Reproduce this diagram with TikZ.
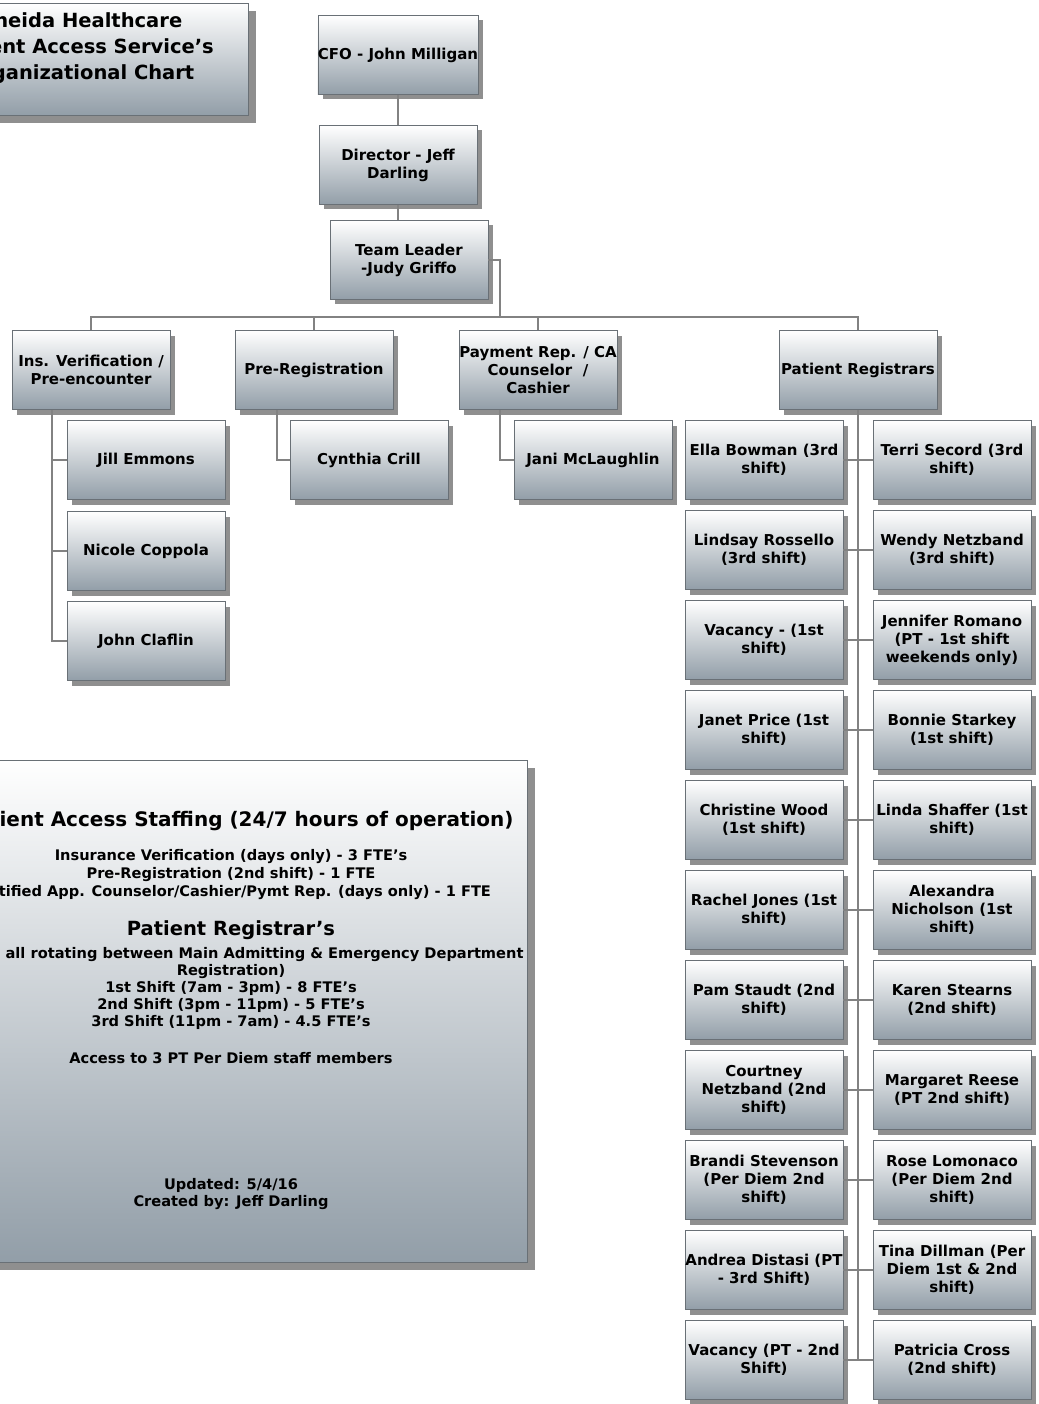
\documentclass[tikz,border=0pt]{standalone}
\usepackage{fontspec}
\setmainfont{DejaVu Sans}
\usetikzlibrary{shadows}

\definecolor{boxbot}{RGB}{146,158,168}
\definecolor{boxline}{RGB}{105,112,118}
\definecolor{linkgray}{RGB}{130,130,130}

\begin{document}
\begin{tikzpicture}[x=1pt, y=-1pt, every node/.style={font=\bfseries},
	box/.style={draw=boxline, line width=0.7pt, top color=white, bottom color=boxbot, minimum width=158pt, minimum height=79pt, align=center, inner sep=0pt, font=\fontsize{15}{18}\selectfont\bfseries, drop shadow={shadow xshift=5pt, shadow yshift=-5pt, opacity=0.55, fill=black!80}},
	bigbox/.style={draw=boxline, line width=0.7pt, top color=white, bottom color=boxbot, drop shadow={shadow xshift=8pt, shadow yshift=-8pt, opacity=0.55, fill=black!80}},
	link/.style={draw=linkgray, line width=2pt},
	staff/.style={font=\fontsize{14.6}{17}\selectfont\bfseries},
	head/.style={font=\fontsize{19.5}{23}\selectfont\bfseries}]
	\useasboundingbox (0,0) rectangle (1038,1404);
	\clip (0,0) rectangle (1038,1404);
	\fill[white] (0,0) rectangle (1038,1404);

	% title and staffing notes, cut off at the left edge
	\node[bigbox, minimum width=326pt, minimum height=112pt] (titlebox) at (85,59) {};
	\node[align=center, font=\fontsize{19.5}{26}\selectfont\bfseries] (title) at (80,48) {Oneida Healthcare\\Patient Access Service's\\Organizational Chart};
	\node[bigbox, minimum width=594pt, minimum height=502pt] (staffbox) at (230,1011) {};
	\node[head, font=\fontsize{20}{23}\selectfont\bfseries] (staffhead) at (238,821) {Patient Access Staffing (24/7 hours of operation)};
	\node[staff] (staff1) at (231,857) {Insurance Verification (days only) - 3 FTE's};
	\node[staff] (staff2) at (231,875) {Pre-Registration (2nd shift) - 1 FTE};
	\node[staff] (staff3) at (231,893) {Certified App. Counselor/Cashier/Pymt Rep. (days only) - 1 FTE};
	\node[head] (reghead) at (231,930) {Patient Registrar's};
	\node[staff, anchor=east] (reg1) at (527,955) {(Registrars all rotating between Main Admitting \& Emergency Department};
	\node[staff] (reg2) at (231,972) {Registration)};
	\node[staff] (reg3) at (231,988) {1st Shift (7am - 3pm) - 8 FTE's};
	\node[staff] (reg4) at (231,1005) {2nd Shift (3pm - 11pm) - 5 FTE's};
	\node[staff] (reg5) at (231,1022) {3rd Shift (11pm - 7am) - 4.5 FTE's};
	\node[staff] (perdiem) at (231,1058) {Access to 3 PT Per Diem staff members};
	\node[staff] (updated) at (231,1185) {Updated: 5/4/16};
	\node[staff] (created) at (231,1203) {Created by: Jeff Darling};

	% management
	\node[box] (cfo) at (398,55) {CFO - John Milligan};
	\node[box] (dir) at (398,165) {Director - Jeff\\Darling};
	\node[box] (lead) at (409,260) {Team Leader\\-Judy Griffo};

	% departments
	\node[box] (ins) at (91,370) {Ins. Verification /\\Pre-encounter};
	\node[box] (pre) at (314,370) {Pre-Registration};
	\node[box] (pay) at (538,370) {Payment Rep. / CA\\Counselor~~/\\Cashier};
	\node[box] (reg) at (858,370) {Patient Registrars};

	\node[box] (jill) at (146,460) {Jill Emmons};
	\node[box] (nicole) at (146,551) {Nicole Coppola};
	\node[box] (claflin) at (146,641) {John Claflin};
	\node[box] (cynthia) at (369,460) {Cynthia Crill};
	\node[box] (jani) at (593,460) {Jani McLaughlin};

	% patient registrars, two columns
	\foreach \i/\lt/\rt in {
		1/{Ella Bowman (3rd\\shift)}/{Terri Secord (3rd\\shift)},
		2/{Lindsay Rossello\\(3rd shift)}/{Wendy Netzband\\(3rd shift)},
		3/{Vacancy - (1st\\shift)}/{Jennifer Romano\\(PT - 1st shift\\weekends only)},
		4/{Janet Price (1st\\shift)}/{Bonnie Starkey\\(1st shift)},
		5/{Christine Wood\\(1st shift)}/{Linda Shaffer (1st\\shift)},
		6/{Rachel Jones (1st\\shift)}/{Alexandra\\Nicholson (1st\\shift)},
		7/{Pam Staudt (2nd\\shift)}/{Karen Stearns\\(2nd shift)},
		8/{Courtney\\Netzband (2nd\\shift)}/{Margaret Reese\\(PT 2nd shift)},
		9/{Brandi Stevenson\\(Per Diem 2nd\\shift)}/{Rose Lomonaco\\(Per Diem 2nd\\shift)},
		10/{Andrea Distasi (PT\\- 3rd Shift)}/{Tina Dillman (Per\\Diem 1st \& 2nd\\shift)},
		11/{Vacancy (PT - 2nd\\Shift)}/{Patricia Cross\\(2nd shift)}} {
		\node[box] (l\i) at (764,370+90*\i) {\lt};
		\node[box] (r\i) at (952,370+90*\i) {\rt};
	}

	% connectors
	\coordinate (bus) at (500,317);
	\draw[link] (cfo) -- (dir);
	\draw[link] (dir.south) -- (dir.south |- lead.north);
	\draw[link] (lead.east) -| (bus);
	\foreach \d in {ins,pre,pay,reg}
		\draw[link] (\d.north) |- (bus);
	\foreach \c in {jill,nicole,claflin}
		\draw[link] ([xshift=-39pt]ins.south) |- (\c.west);
	\draw[link] ([xshift=-37pt]pre.south) |- (cynthia.west);
	\draw[link] ([xshift=-38pt]pay.south) |- (jani.west);
	\draw[link] (reg.south) -- (reg.south |- l11.east);
	\foreach \i in {1,...,11}
		\draw[link] (l\i.east) -- (r\i.west);
\end{tikzpicture}
\end{document}
